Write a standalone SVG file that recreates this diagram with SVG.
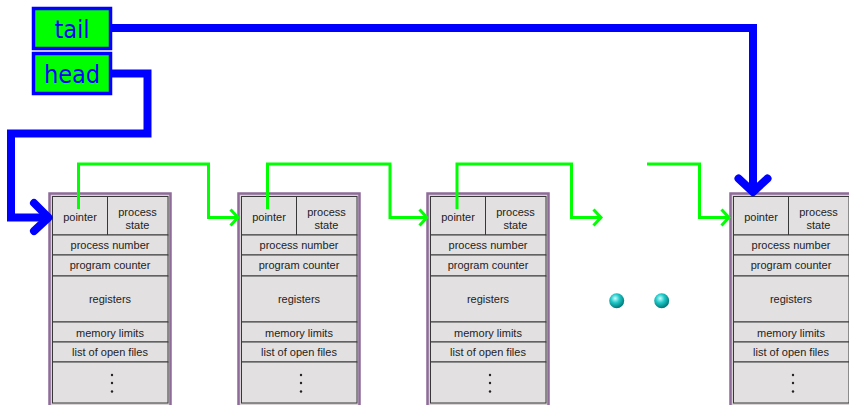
<svg xmlns="http://www.w3.org/2000/svg" width="849" height="405" viewBox="0 0 849 405">
<defs>
<style>
.outer{fill:#d9d5d7;stroke:#8f6b9a;stroke-width:2.5}
.cell{fill:#e2e0e1;stroke:#383838;stroke-width:1}
.t{font-family:"Liberation Sans",Arial,sans-serif;font-size:11px;fill:#222;text-anchor:middle}
.dot{fill:#222}
.lbl{fill:#00ff00;stroke:#0000ff;stroke-width:3.5}
.lt{font-family:"DejaVu Sans Condensed","DejaVu Sans",sans-serif;font-size:25px;fill:#0000ff;text-anchor:middle}
.g{fill:none;stroke:#00ff00;stroke-width:3}
.b{fill:none;stroke:#0000ff;stroke-width:8;stroke-linejoin:miter}
.bh{fill:none;stroke:#0000ff;stroke-width:8;stroke-linecap:round;stroke-linejoin:round}
</style>
<radialGradient id="ball" cx="0.4" cy="0.35" r="0.65">
<stop offset="0" stop-color="#c8ffff"/>
<stop offset="0.45" stop-color="#20c8c8"/>
<stop offset="1" stop-color="#007878"/>
</radialGradient>
</defs>
<rect width="849" height="405" fill="#ffffff"/>

<g id="tail">
<rect class="lbl" x="33.5" y="8.5" width="77" height="40"/>
<text class="lt" x="72" y="38">tail</text>
</g>
<g id="head">
<rect class="lbl" x="33.5" y="53.5" width="77" height="40"/>
<text class="lt" x="72" y="83">head</text>
</g>

<g id="pcb1" transform="translate(49.5,0)">
<rect class="outer" x="0" y="193.5" width="121" height="214"/>
<rect class="cell" x="3" y="196.5" width="55" height="38.5"/>
<rect class="cell" x="58" y="196.5" width="60.5" height="38.5"/>
<rect class="cell" x="3" y="235" width="115.5" height="20"/>
<rect class="cell" x="3" y="255" width="115.5" height="21"/>
<rect class="cell" x="3" y="276" width="115.5" height="46"/>
<rect class="cell" x="3" y="322" width="115.5" height="20"/>
<rect class="cell" x="3" y="342" width="115.5" height="20"/>
<rect class="cell" x="3" y="362" width="115.5" height="41"/>
<text class="t" x="30.5" y="221">pointer</text>
<text class="t" x="88" y="215.5">process</text>
<text class="t" x="88" y="228.5">state</text>
<text class="t" x="60.5" y="249">process number</text>
<text class="t" x="60.5" y="269">program counter</text>
<text class="t" x="60.5" y="303">registers</text>
<text class="t" x="60.5" y="337">memory limits</text>
<text class="t" x="60.5" y="356">list of open files</text>
<circle class="dot" cx="62.5" cy="375" r="1.2"/>
<circle class="dot" cx="62.5" cy="383" r="1.2"/>
<circle class="dot" cx="62.5" cy="391.5" r="1.2"/>
</g>

<g id="pcb2" transform="translate(238.5,0)">
<rect class="outer" x="0" y="193.5" width="121" height="214"/>
<rect class="cell" x="3" y="196.5" width="55" height="38.5"/>
<rect class="cell" x="58" y="196.5" width="60.5" height="38.5"/>
<rect class="cell" x="3" y="235" width="115.5" height="20"/>
<rect class="cell" x="3" y="255" width="115.5" height="21"/>
<rect class="cell" x="3" y="276" width="115.5" height="46"/>
<rect class="cell" x="3" y="322" width="115.5" height="20"/>
<rect class="cell" x="3" y="342" width="115.5" height="20"/>
<rect class="cell" x="3" y="362" width="115.5" height="41"/>
<text class="t" x="30.5" y="221">pointer</text>
<text class="t" x="88" y="215.5">process</text>
<text class="t" x="88" y="228.5">state</text>
<text class="t" x="60.5" y="249">process number</text>
<text class="t" x="60.5" y="269">program counter</text>
<text class="t" x="60.5" y="303">registers</text>
<text class="t" x="60.5" y="337">memory limits</text>
<text class="t" x="60.5" y="356">list of open files</text>
<circle class="dot" cx="62.5" cy="375" r="1.2"/>
<circle class="dot" cx="62.5" cy="383" r="1.2"/>
<circle class="dot" cx="62.5" cy="391.5" r="1.2"/>
</g>

<g id="pcb3" transform="translate(427.5,0)">
<rect class="outer" x="0" y="193.5" width="121" height="214"/>
<rect class="cell" x="3" y="196.5" width="55" height="38.5"/>
<rect class="cell" x="58" y="196.5" width="60.5" height="38.5"/>
<rect class="cell" x="3" y="235" width="115.5" height="20"/>
<rect class="cell" x="3" y="255" width="115.5" height="21"/>
<rect class="cell" x="3" y="276" width="115.5" height="46"/>
<rect class="cell" x="3" y="322" width="115.5" height="20"/>
<rect class="cell" x="3" y="342" width="115.5" height="20"/>
<rect class="cell" x="3" y="362" width="115.5" height="41"/>
<text class="t" x="30.5" y="221">pointer</text>
<text class="t" x="88" y="215.5">process</text>
<text class="t" x="88" y="228.5">state</text>
<text class="t" x="60.5" y="249">process number</text>
<text class="t" x="60.5" y="269">program counter</text>
<text class="t" x="60.5" y="303">registers</text>
<text class="t" x="60.5" y="337">memory limits</text>
<text class="t" x="60.5" y="356">list of open files</text>
<circle class="dot" cx="62.5" cy="375" r="1.2"/>
<circle class="dot" cx="62.5" cy="383" r="1.2"/>
<circle class="dot" cx="62.5" cy="391.5" r="1.2"/>
</g>

<g id="pcb4" transform="translate(730.5,0)">
<rect class="outer" x="0" y="193.5" width="121" height="214"/>
<rect class="cell" x="3" y="196.5" width="55" height="38.5"/>
<rect class="cell" x="58" y="196.5" width="60.5" height="38.5"/>
<rect class="cell" x="3" y="235" width="115.5" height="20"/>
<rect class="cell" x="3" y="255" width="115.5" height="21"/>
<rect class="cell" x="3" y="276" width="115.5" height="46"/>
<rect class="cell" x="3" y="322" width="115.5" height="20"/>
<rect class="cell" x="3" y="342" width="115.5" height="20"/>
<rect class="cell" x="3" y="362" width="115.5" height="41"/>
<text class="t" x="30.5" y="221">pointer</text>
<text class="t" x="88" y="215.5">process</text>
<text class="t" x="88" y="228.5">state</text>
<text class="t" x="60.5" y="249">process number</text>
<text class="t" x="60.5" y="269">program counter</text>
<text class="t" x="60.5" y="303">registers</text>
<text class="t" x="60.5" y="337">memory limits</text>
<text class="t" x="60.5" y="356">list of open files</text>
<circle class="dot" cx="62.5" cy="375" r="1.2"/>
<circle class="dot" cx="62.5" cy="383" r="1.2"/>
<circle class="dot" cx="62.5" cy="391.5" r="1.2"/>
</g>

<g id="ellipsis">
<circle cx="616.7" cy="300.7" r="7.5" fill="url(#ball)"/>
<circle cx="661.7" cy="300.7" r="7.5" fill="url(#ball)"/>
</g>

<g id="connectors">
<path class="g" d="M78.5 209 V164 H208.5 V217.5 H237"/>
<path class="g" d="M230.5 209.5 L238 217.5 L230.5 225.5"/>
<path class="g" d="M267.5 209 V164 H390 V217.5 H426"/>
<path class="g" d="M419.5 209.5 L427 217.5 L419.5 225.5"/>
<path class="g" d="M457 209 V164 H571.5 V217.5 H600"/>
<path class="g" d="M593.5 209.5 L601 217.5 L593.5 225.5"/>
<path class="g" d="M647 164 H699.5 V217.5 H728"/>
<path class="g" d="M721.5 209.5 L729 217.5 L721.5 225.5"/>
<path class="b" d="M112 28 H753 V190"/>
<path class="bh" d="M738.5 178.5 L753 192 L767.5 178.5"/>
<path class="b" d="M112 73.5 H147.5 V133.5 H11 V217.5 H47"/>
<path class="bh" d="M34 203 L48.5 217.5 L34 231"/>
</g>
</svg>
